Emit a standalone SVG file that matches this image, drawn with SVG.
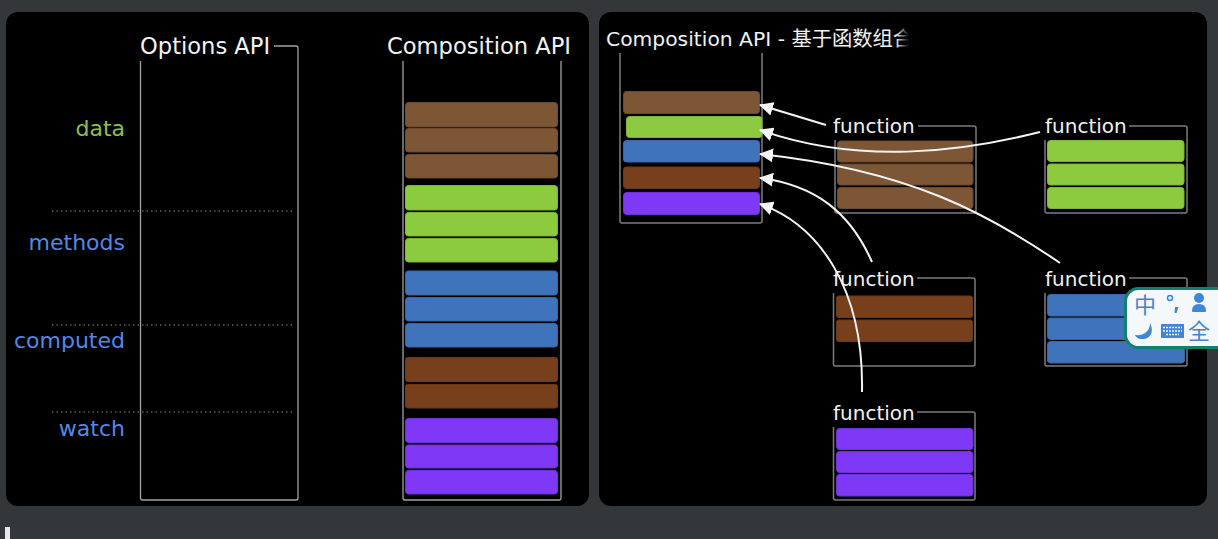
<svg xmlns="http://www.w3.org/2000/svg" width="1218" height="539" viewBox="0 0 1218 539">
  <style>
    text { font-family: "DejaVu Sans", "Noto Sans CJK SC", sans-serif; }
    .panel { fill: #000; }
    .frame { fill: none; stroke: #a2a2a2; stroke-width: 1.3; }
    .frame2 { fill: none; stroke: #7c7c7c; stroke-width: 1.5; }
    .title { fill: #f2f2f2; font-size: 22.600px; }
    .subtitle { font-size: 20.300px; }
    .fn { fill: #f2f2f2; font-size: 20px; }
    .side { font-size: 22px; text-anchor: end; }
    .dots { stroke: #5c5c5c; stroke-width: 1.3; stroke-dasharray: 1.5 3; fill: none; }
    .brown { fill: #7d5636; stroke: #6b4a30; }
    .green { fill: #8ccb3f; stroke: #7db53a; }
    .blue { fill: #3f74bd; stroke: #3767aa; }
    .rust { fill: #773f1c; stroke: #6a3919; }
    .violet { fill: #7f38f5; stroke: #6f30d8; }
    .link { fill: none; stroke: #f4f4f4; stroke-width: 2; marker-end: url(#head); }
    .ime { fill: #3f86d8; }
    .imetext { fill: #3f86d8; font-size: 22px; text-anchor: middle; }
  </style>
  <defs>
    <marker id="head" markerUnits="userSpaceOnUse" markerWidth="15" markerHeight="14" refX="13" refY="7" orient="auto">
      <path d="M0 0 L14 7 L0 14 Z" fill="#f4f4f4"/>
    </marker>
    <linearGradient id="fade" gradientUnits="userSpaceOnUse" x1="896" y1="0" x2="909" y2="0">
      <stop offset="0" stop-color="#f2f2f2"/>
      <stop offset="1" stop-color="#f2f2f2" stop-opacity="0"/>
    </linearGradient>
    <clipPath id="imeClip"><rect x="1100" y="280" width="118" height="75"/></clipPath>
  </defs>

  <rect width="1218" height="539" fill="#33373a"/>
  <rect x="5" y="527" width="5" height="12" fill="#e6e8ea"/>

  <g id="options-panel">
    <rect class="panel" x="6" y="12" width="583" height="494" rx="12"/>
    <path class="dots" d="M52 211H292M52 325H292M52 412H292"/>
    <text class="side" x="125" y="136" fill="#8cc04a">data</text>
    <text class="side" x="125" y="250" fill="#5288e6">methods</text>
    <text class="side" x="125" y="348" fill="#5288e6">computed</text>
    <text class="side" x="125" y="436" fill="#5288e6">watch</text>
  </g>

  <g id="options-api">
    <path class="frame" d="M140.500 61V498a2 2 0 0 0 2 2H296a2 2 0 0 0 2-2V48a2 2 0 0 0-2-2H274"/>
    <text class="title" x="140" y="54">Options API</text>
  </g>

  <g id="composition-api">
    <path class="frame" d="M403 61V498a2 2 0 0 0 2 2H559a2 2 0 0 0 2-2V61"/>
    <text class="title" x="387" y="54">Composition API</text>
    <rect class="brown" x="405.500" y="102.500" width="152" height="24.500" rx="3"/>
    <rect class="brown" x="405.500" y="128.500" width="152" height="23.500" rx="3"/>
    <rect class="brown" x="405.500" y="154.500" width="152" height="23.500" rx="3"/>
    <rect class="green" x="405.500" y="185.500" width="152" height="24.500" rx="3"/>
    <rect class="green" x="405.500" y="212.500" width="152" height="23.500" rx="3"/>
    <rect class="green" x="405.500" y="238.500" width="152" height="23.500" rx="3"/>
    <rect class="blue" x="405.500" y="271" width="152" height="24" rx="3"/>
    <rect class="blue" x="405.500" y="297.500" width="152" height="23.500" rx="3"/>
    <rect class="blue" x="405.500" y="323.500" width="152" height="23.500" rx="3"/>
    <rect class="rust" x="405.500" y="357.500" width="152" height="24" rx="2"/>
    <rect class="rust" x="405.500" y="384.500" width="152" height="23.500" rx="2"/>
    <rect class="violet" x="405.500" y="418.500" width="152" height="24" rx="3"/>
    <rect class="violet" x="405.500" y="445" width="152" height="23" rx="3"/>
    <rect class="violet" x="405.500" y="470.500" width="152" height="23.500" rx="3"/>
  </g>

  <g id="function-panel">
    <rect class="panel" x="599" y="12" width="608" height="494" rx="12"/>
  </g>

  <g id="merged-component">
    <path class="frame2" d="M620 53V221a2 2 0 0 0 2 2H760a2 2 0 0 0 2-2V53"/>
    <text class="subtitle" x="606" y="46" style="fill:url(#fade)">Composition API - 基于函数组合</text>
    <rect class="brown" x="623.500" y="91.500" width="136" height="22" rx="3"/>
    <rect class="green" x="626.500" y="116.500" width="135.500" height="21" rx="3"/>
    <rect class="blue" x="623.500" y="140.500" width="136" height="21.500" rx="3"/>
    <rect class="rust" x="623.500" y="167" width="136" height="21.500" rx="3"/>
    <rect class="violet" x="623.500" y="192.500" width="136" height="22" rx="3"/>
  </g>

  <g id="function-data">
    <path class="frame2" d="M835 140V211a2 2 0 0 0 2 2H974a2 2 0 0 0 2-2V128a2 2 0 0 0-2-2H918"/>
    <rect class="brown" x="837.500" y="141" width="135.500" height="21" rx="3"/>
    <rect class="brown" x="837.500" y="164" width="135.500" height="21" rx="3"/>
    <rect class="brown" x="837.500" y="187.500" width="135.500" height="21" rx="3"/>
    <text class="fn" x="833" y="133">function</text>
  </g>

  <g id="function-methods">
    <path class="frame2" d="M1045 140V211a2 2 0 0 0 2 2H1185a2 2 0 0 0 2-2V128a2 2 0 0 0-2-2H1129"/>
    <rect class="green" x="1047.500" y="140.500" width="136.500" height="21" rx="3"/>
    <rect class="green" x="1047.500" y="164" width="136.500" height="21" rx="3"/>
    <rect class="green" x="1047.500" y="187.500" width="136.500" height="21" rx="3"/>
    <text class="fn" x="1045" y="133">function</text>
  </g>

  <g id="function-watch">
    <path class="frame2" d="M833.500 293V364a2 2 0 0 0 2 2H973a2 2 0 0 0 2-2V280a2 2 0 0 0-2-2H917"/>
    <rect class="rust" x="836.500" y="296" width="136" height="21.500" rx="2"/>
    <rect class="rust" x="836.500" y="320" width="136" height="21.500" rx="2"/>
    <text class="fn" x="833" y="286">function</text>
  </g>

  <g id="function-computed">
    <path class="frame2" d="M1045 293V364a2 2 0 0 0 2 2H1185a2 2 0 0 0 2-2V280a2 2 0 0 0-2-2H1129"/>
    <rect class="blue" x="1047.500" y="294.500" width="137" height="21.500" rx="3"/>
    <rect class="blue" x="1047.500" y="318" width="137" height="21.500" rx="3"/>
    <rect class="blue" x="1047.500" y="341.500" width="137" height="21.500" rx="3"/>
    <text class="fn" x="1045" y="286">function</text>
  </g>

  <g id="function-lifecycle">
    <path class="frame2" d="M833.500 427V498a2 2 0 0 0 2 2H973a2 2 0 0 0 2-2V414a2 2 0 0 0-2-2H917"/>
    <rect class="violet" x="836.500" y="428.500" width="136.500" height="21" rx="3"/>
    <rect class="violet" x="836.500" y="451.500" width="136.500" height="21" rx="3"/>
    <rect class="violet" x="836.500" y="474.500" width="136.500" height="21.500" rx="3"/>
    <text class="fn" x="833" y="420">function</text>
  </g>

  <g id="connectors">
    <path class="link" d="M826 125 L760 105"/>
    <path class="link" d="M1040 132 C960 152 860 165 760 130"/>
    <path class="link" d="M1060 263 C990 215 910 170 760 154"/>
    <path class="link" d="M872 262 C850 212 815 185 760 178"/>
    <path class="link" d="M862 392 C864 290 820 225 760 204"/>
  </g>

  <g id="input-badge" clip-path="url(#imeClip)">
    <rect x="1125.500" y="288.500" width="110" height="59" rx="13" fill="#f5f8fa" stroke="#12806f" stroke-width="3"/>
    <text class="imetext" x="1145" y="313">中</text>
    <circle cx="1170" cy="298" r="2.500" fill="none" stroke="#3f86d8" stroke-width="1.500"/>
    <path class="ime" d="M1175 307 h3.500 l-2 6 h-2Z"/>
    <circle class="ime" cx="1199" cy="298" r="5"/>
    <path class="ime" d="M1192 311 q0-7 7-7 q7 0 7 7 q0 1-1 1 h-12 q-1 0-1-1Z"/>
    <path class="ime" d="M1150 323 C1155 333 1149 340 1141 339 C1138 339 1136 337 1135 335 C1143 336 1150 332 1150 323Z"/>
    <rect class="ime" x="1161" y="324" width="23" height="14"/>
    <path d="M1163 327.500 h19 M1163 331 h19 M1166 334.500 h13" fill="none" stroke="#f5f8fa" stroke-width="1.500" stroke-dasharray="2 1"/>
    <text class="imetext" x="1199" y="339">全</text>
  </g>
</svg>
